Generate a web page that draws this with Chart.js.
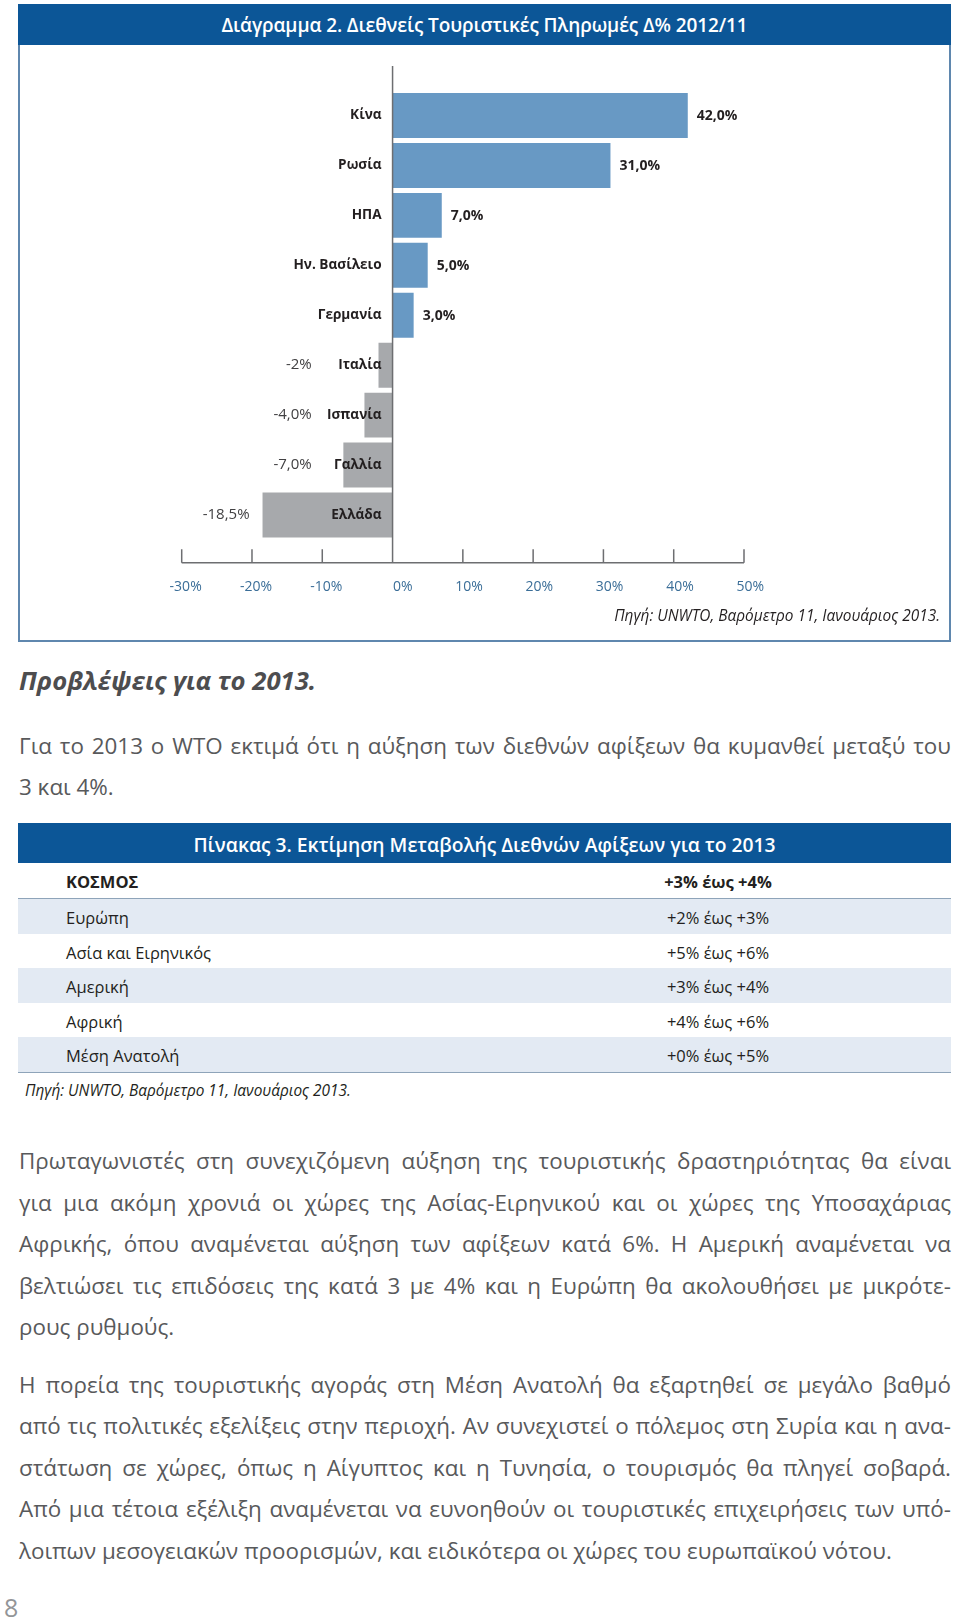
<!DOCTYPE html>
<html lang="el">
<head>
<meta charset="utf-8">
<title>Διεθνείς Τουριστικές Πληρωμές</title>
<script src="https://cdn.jsdelivr.net/npm/chart.js@4.4.1/dist/chart.umd.min.js"></script>
<style>
  html, body { margin: 0; padding: 0; background: #fff; }
  body { width: 960px; height: 1620px; position: relative; overflow: hidden; font-family: "Open Sans", sans-serif; }
  .abs { position: absolute; }
  #box { left: 18px; top: 4px; width: 933px; height: 638px; box-sizing: border-box; border: 2px solid #5f87ae; border-top: none; }
  #boxtitle { left: 18px; top: 4px; width: 933px; height: 41px; background: #0c5697; color: #fff;
    font-weight: 600; font-size: 19px; line-height: 42px; text-align: center; letter-spacing: -0.1px; }
  #chart { left: 0; top: 0; }
  .source { font-style: italic; font-size: 15.4px; line-height: 20px; color: #231f20; white-space: nowrap; }
  #src1 { right: 20px; top: 606px; }
  #src2 { left: 25px; top: 1081px; }
  #heading { left: 19px; top: 666px; font: italic 700 25.7px/30px "Open Sans", sans-serif; color: #4d4d4f; }
  .para { left: 19px; width: 932px; font-size: 22.4px; line-height: 41.5px; color: #58595b; }
  .para div { text-align: justify; text-align-last: justify; white-space: nowrap; }
  .para div.end { text-align-last: left; }
  #p0 { top: 724.5px; }
  #p1 { top: 1140px; }
  #p2 { top: 1363.5px; }
  #tabhead { left: 18px; top: 823px; width: 933px; height: 40px; background: #0c5697; color: #fff;
    font-weight: 600; font-size: 19.3px; line-height: 43px; text-align: center; }
  #tab { left: 18px; top: 863px; width: 933px; }
  .row { position: relative; height: 34.6px; font-size: 16.5px; line-height: 37px; color: #231f20; }
  .row.band { background: #e3eaf3; }
  .row.first { height: 35px; border-bottom: 1.5px solid #8ea4b9; font-weight: 700; }
  .row.lastrow { border-bottom: 1.5px solid #8ea4b9; }
  .row .name { position: absolute; left: 48px; }
  .row .range { position: absolute; left: 600px; width: 200px; text-align: center; }
  #pageno { left: 4px; top: 1592px; font-size: 25px; line-height: 30px; font-weight: 400; color: #939598; }
</style>
</head>
<body>
<div id="box" class="abs"></div>
<div id="boxtitle" class="abs">Διάγραμμα 2. Διεθνείς Τουριστικές Πληρωμές Δ% 2012/11</div>
<canvas id="chart" class="abs" width="960" height="640"></canvas>
<div id="src1" class="abs source">Πηγή: UNWTO, Βαρόμετρο 11, Ιανουάριος 2013.</div>

<div id="heading" class="abs">Προβλέψεις για το 2013.</div>

<div id="p0" class="abs para">
  <div>Για το 2013 ο WTO εκτιμά ότι η αύξηση των διεθνών αφίξεων θα κυμανθεί μεταξύ του</div>
  <div class="end">3 και 4%.</div>
</div>

<div id="tabhead" class="abs">Πίνακας 3. Εκτίμηση Μεταβολής Διεθνών Αφίξεων για το 2013</div>
<div id="tab" class="abs"></div>
<div id="src2" class="abs source">Πηγή: UNWTO, Βαρόμετρο 11, Ιανουάριος 2013.</div>

<div id="p1" class="abs para">
  <div>Πρωταγωνιστές στη συνεχιζόμενη αύξηση της τουριστικής δραστηριότητας θα είναι</div>
  <div>για μια ακόμη χρονιά οι χώρες της Ασίας-Ειρηνικού και οι χώρες της Υποσαχάριας</div>
  <div>Αφρικής, όπου αναμένεται αύξηση των αφίξεων κατά 6%. Η Αμερική αναμένεται να</div>
  <div>βελτιώσει τις επιδόσεις της κατά 3 με 4% και η Ευρώπη θα ακολουθήσει με μικρότε-</div>
  <div class="end">ρους ρυθμούς.</div>
</div>

<div id="p2" class="abs para">
  <div>Η πορεία της τουριστικής αγοράς στη Μέση Ανατολή θα εξαρτηθεί σε μεγάλο βαθμό</div>
  <div>από τις πολιτικές εξελίξεις στην περιοχή. Αν συνεχιστεί ο πόλεμος στη Συρία και η ανα-</div>
  <div>στάτωση σε χώρες, όπως η Αίγυπτος και η Τυνησία, ο τουρισμός θα πληγεί σοβαρά.</div>
  <div>Από μια τέτοια εξέλιξη αναμένεται να ευνοηθούν οι τουριστικές επιχειρήσεις των υπό-</div>
  <div class="end">λοιπων μεσογειακών προορισμών, και ειδικότερα οι χώρες του ευρωπαϊκού νότου.</div>
</div>

<div id="pageno" class="abs">8</div>

<script>
// chart data: change in international tourism payments 2012/11 (%)
const countries = ['Κίνα', 'Ρωσία', 'ΗΠΑ', 'Ην. Βασίλειο', 'Γερμανία', 'Ιταλία', 'Ισπανία', 'Γαλλία', 'Ελλάδα'];
const changes = [42, 31, 7, 5, 3, -2, -4, -7, -18.5];
const changeLabels = ['42,0%', '31,0%', '7,0%', '5,0%', '3,0%', '-2%', '-4,0%', '-7,0%', '-18,5%'];

// x axis
const axisMin = -30;
const axisMax = 50;
const axisStep = 10;

// table 3
const regions = ['ΚΟΣΜΟΣ', 'Ευρώπη', 'Ασία και Ειρηνικός', 'Αμερική', 'Αφρική', 'Μέση Ανατολή'];
const ranges = ['+3% έως +4%', '+2% έως +3%', '+5% έως +6%', '+3% έως +4%', '+4% έως +6%', '+0% έως +5%'];

const BLUE = '#6899c4';
const GREY = '#a7a9ac';
const AXIS = '#6d6e71';
const FONT = '"Open Sans", sans-serif';

// table built from the arrays
const tab = document.getElementById('tab');
regions.forEach((r, i) => {
    const row = document.createElement('div');
    row.className = 'row' + (i === 0 ? ' first' : '') + (i % 2 === 1 ? ' band' : '') + (i === regions.length - 1 ? ' lastrow' : '');
    const n = document.createElement('span');
    n.className = 'name';
    n.textContent = r;
    const v = document.createElement('span');
    v.className = 'range';
    v.textContent = ranges[i];
    row.appendChild(n);
    row.appendChild(v);
    tab.appendChild(row);
});

// axis line, tick marks (pointing up), labels at the zero line
const axisPlugin = {
    id: 'axisPlugin',
    afterDatasetsDraw(chart) {
        const {ctx, chartArea} = chart;
        const xs = chart.scales.x;
        const ys = chart.scales.y;
        const x0 = xs.getPixelForValue(0);
        const axisY = chartArea.bottom + 22.7;

        ctx.save();
        ctx.strokeStyle = AXIS;
        ctx.lineWidth = 1.5;
        ctx.beginPath();
        ctx.moveTo(x0, chartArea.top - 24.5);
        ctx.lineTo(x0, axisY);
        ctx.moveTo(xs.getPixelForValue(axisMin), axisY);
        ctx.lineTo(xs.getPixelForValue(axisMax), axisY);
        for (const t of xs.ticks) {
            const px = xs.getPixelForValue(t.value);
            ctx.moveTo(px, axisY);
            ctx.lineTo(px, axisY - 13.4);
        }
        ctx.stroke();

        ctx.textBaseline = 'middle';
        countries.forEach((c, i) => {
            const y = ys.getPixelForValue(i);
            ctx.fillStyle = '#231f20';
            ctx.font = `700 13.6px ${FONT}`;
            ctx.textAlign = 'right';
            ctx.fillText(c, x0 - 11, y);

            const v = changes[i];
            const xv = xs.getPixelForValue(v);
            if (v >= 0) {
                ctx.font = `700 14px ${FONT}`;
                ctx.textAlign = 'left';
                ctx.fillText(changeLabels[i], xv + 9, y + 1);
            } else {
                ctx.font = `400 15px ${FONT}`;
                ctx.fillStyle = '#414042';
                ctx.textAlign = 'right';
                ctx.fillText(changeLabels[i], Math.min(xv - 13, xs.getPixelForValue(-11.5)), y);
            }
        });
        ctx.restore();
    }
};

new Chart(document.getElementById('chart'), {
    type: 'bar',
    data: {
        labels: countries,
        datasets: [{
            data: changes,
            backgroundColor: changes.map(v => v >= 0 ? BLUE : GREY),
            borderWidth: 0,
            barPercentage: 0.9,
            categoryPercentage: 1
        }]
    },
    options: {
        indexAxis: 'y',
        responsive: false,
        animation: false,
        layout: { padding: { left: 181.7, right: 216, top: 90.5, bottom: 30 } },
        plugins: { legend: { display: false }, tooltip: { enabled: false } },
        scales: {
            x: {
                min: axisMin,
                max: axisMax,
                grid: { display: false, drawTicks: false },
                border: { display: false },
                ticks: {
                    stepSize: axisStep,
                    callback: v => v + '%',
                    align: 'end',
                    labelOffset: 20,
                    padding: 39,
                    maxRotation: 0,
                    autoSkip: false,
                    color: '#3b6e98',
                    font: { family: FONT, size: 14 }
                },
                afterFit: s => { s.height = 70; }
            },
            y: { display: false }
        }
    },
    plugins: [axisPlugin]
});
</script>
</body>
</html>
